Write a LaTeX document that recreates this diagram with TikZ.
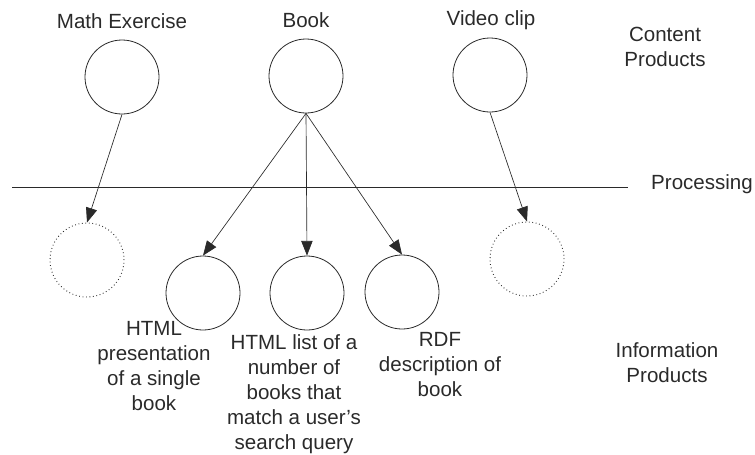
\documentclass[tikz,border=0pt]{standalone}
\usepackage{fontspec}
\setmainfont{Liberation Sans}
\usetikzlibrary{arrows.meta}
\definecolor{ink}{HTML}{2A2A2A}
\tikzset{
  prod/.style={circle, draw=ink, line width=0.6pt, minimum size=55.5pt, inner sep=0pt},
  future/.style={prod, dotted, line width=0.7pt},
  lbl/.style={text=ink, inner sep=0pt, align=center, font=\fontsize{15.4}{18.75}\selectfont},
  flow/.style={draw=ink, line width=0.5pt, -{Triangle[length=11pt,width=8.5pt]}},
}
\begin{document}
\begin{tikzpicture}[x=0.75pt,y=-0.75pt]
\useasboundingbox (0,0) rectangle (755,454);
% content products
\node[prod] (math) at (122,77) {};
\node[prod] (book) at (306,76) {};
\node[prod] (video) at (490,75) {};
\node[lbl] (tmath) at (122,21) {Math Exercise};
\node[lbl] (tbook) at (306,20) {Book};
\node[lbl] (tvideo) at (491,20) {Video clip};
\node[lbl, anchor=north] (tcontent) at (665,27) {Content\\Products};
% processing line
\coordinate (pl) at (12,187);
\coordinate (pr) at (628,187);
\draw[ink, line width=0.6pt] (pl) -- (pr);
\node[lbl] (tproc) at (702,184) {Processing};
% information products
\node[future] (fmath) at (87,260) {};
\node[prod] (html) at (203,293) {};
\node[prod] (list) at (307,293) {};
\node[prod] (rdf) at (402,292) {};
\node[future] (fvideo) at (527,259) {};
\node[lbl, anchor=north] (thtml) at (154,321) {HTML\\presentation\\of a single\\book};
\node[lbl, anchor=north] (tlist) at (294,334) {HTML list of a\\number of\\books that\\match a user's\\search query};
\node[lbl, anchor=north] (trdf) at (440,332) {RDF\\description of\\book};
\node[lbl, anchor=north] (tinfo) at (667,342) {Information\\Products};
% flows
\draw[flow] (math.south) -- (fmath.north);
\draw[flow] (book.south) -- (html.north);
\draw[flow] (book.south) -- (list.north);
\draw[flow] (book.south) -- (rdf.north);
\draw[flow] (video.south) -- (fvideo.north);
\end{tikzpicture}
\end{document}
